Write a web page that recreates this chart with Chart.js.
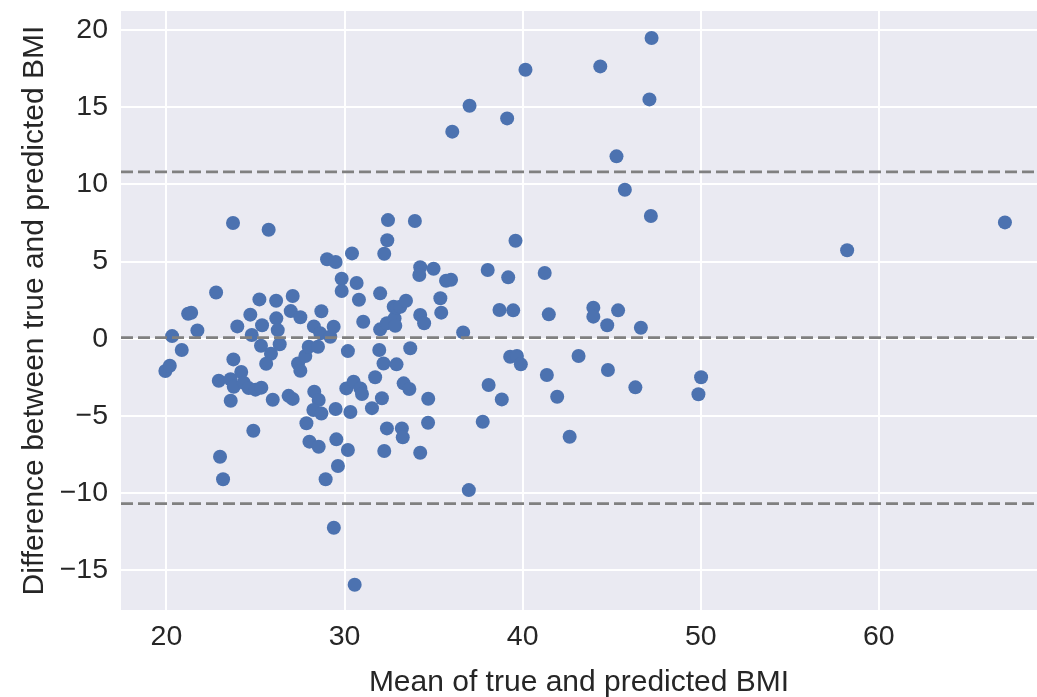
<!DOCTYPE html>
<html>
<head>
<meta charset="utf-8">
<script src="https://cdn.jsdelivr.net/npm/chart.js@4.4.0/dist/chart.umd.min.js"></script>
<style>
  html, body { margin: 0; padding: 0; background: #fff; }
  #wrap { width: 1037px; height: 697px; }
</style>
</head>
<body>
<div id="wrap"><canvas id="myChart"></canvas></div>
<script>
// mean of true and predicted BMI
const meanBMI = [
  19.94, 20.19, 20.32, 20.86, 21.22, 21.39, 21.74, 22.79, 22.94, 23.01,
  23.18, 23.74, 23.76, 23.60, 23.78, 23.61, 23.98, 24.20, 24.34, 24.62,
  25.00, 25.33, 24.71, 24.79, 24.88, 25.22, 25.37, 25.31, 25.74, 25.87,
  25.60, 25.97, 26.16, 26.17, 26.25, 26.36, 26.86, 27.09, 27.09, 26.98,
  27.52, 27.39, 27.52, 27.80, 27.99, 27.86, 28.03, 28.28, 28.70, 28.30,
  28.55, 28.25, 28.70, 28.55, 28.51, 28.64, 29.20, 29.39, 29.02, 29.50,
  29.84, 29.84, 29.50, 29.54, 29.63, 28.94, 29.40, 30.57, 30.19, 30.42,
  30.68, 30.81, 31.05, 30.10, 30.51, 30.89, 30.98, 30.33, 30.19, 31.54,
  31.72, 31.95, 32.00, 32.00, 32.38, 32.81, 32.85, 32.19, 32.10, 32.38,
  32.23, 32.23, 32.40, 32.44, 32.76, 32.94, 33.13, 33.45, 32.92, 33.32,
  33.64, 33.22, 33.27, 33.69, 33.95, 34.25, 34.20, 34.25, 34.47, 34.70,
  34.69, 34.25, 35.00, 35.38, 35.43, 35.70, 35.98, 36.05, 36.66, 36.98,
  37.02, 37.76, 38.04, 38.09, 38.70, 38.83, 39.13, 39.19, 39.47, 39.60,
  39.30, 39.68, 39.90, 40.16, 41.24, 41.47, 41.36, 41.94, 42.64, 43.14,
  43.97, 43.97, 44.36, 44.75, 44.79, 45.27, 45.36, 45.74, 46.33, 46.64,
  47.12, 47.24, 47.20, 49.87, 50.02, 58.22, 67.08
];
// difference between true and predicted BMI
const diffBMI = [
  -2.09, -1.75, 0.17, -0.73, 1.62, 1.68, 0.54, 3.00, -2.72, -7.65,
  -9.11, 7.50, -1.34, -2.63, -3.11, -4.02, 0.80, -2.16, -2.85, -3.20,
  -3.30, -3.17, 1.56, 0.24, -5.96, 2.55, 0.87, -0.45, 7.06, -0.97,
  -1.62, -3.95, 2.46, 1.32, 0.56, -0.36, -3.70, -3.90, 2.77, 1.79,
  1.39, -1.60, -2.07, -1.12, -0.52, -5.48, -6.67, 0.80, 1.78, -3.43,
  -3.97, -4.62, -4.85, -7.00, -0.52, 0.35, 0.13, 0.78, 5.15, 4.97,
  3.89, 3.09, -4.55, -6.52, -8.25, -9.11, -12.25, -15.94, -0.80, 5.53,
  3.61, 2.53, 1.10, -3.22, -2.79, -3.22, -3.58, -4.75, -7.21, -4.50,
  -2.50, -0.73, 2.94, 0.61, 1.00, 1.32, 0.84, -1.60, -3.86, -5.81,
  -7.28, 5.51, 6.38, 7.69, 2.07, 2.00, 2.07, 2.46, -1.66, -2.89,
  -3.26, -5.81, -6.39, -0.62, 7.63, 4.63, 4.13, 1.54, 1.00, -3.89,
  -5.44, -7.39, 4.54, 2.62, 1.69, 3.76, 3.82, 13.42, 0.41, -9.81,
  15.10, -5.38, 4.45, -3.00, 1.86, -3.93, 14.28, 3.98, 1.84, 6.35,
  -1.17, -1.12, -1.66, 17.43, 4.26, 1.58, -2.35, -3.76, -6.35, -1.12,
  2.01, 1.43, 17.65, 0.87, -2.03, 11.82, 1.84, 9.66, -3.15, 0.71,
  15.51, 19.49, 7.95, -3.60, -2.50, 5.73, 7.54
];
// mean difference and limits of agreement
const refLines = [10.82, 0.07, -10.69];

const xTicks = [20, 30, 40, 50, 60];
const yTicks = [-15, -10, -5, 0, 5, 10, 15, 20];
const xMin = 17.45, xMax = 68.88;
const yMin = -17.58, yMax = 21.24;

const textColor = '#262626';
const fontFamily = '"Liberation Sans", Arial, sans-serif';

const points = meanBMI.map((m, i) => ({ x: m, y: diffBMI[i] }));

const lineSets = refLines.map(v => ({
  type: 'line',
  data: [{ x: xMin, y: v }, { x: xMax, y: v }],
  borderColor: '#808080',
  borderWidth: 2.7,
  borderDash: [12, 5],
  pointRadius: 0,
  fill: false,
  order: 0
}));

// fundo cinza do seaborn
const bgPlugin = {
  id: 'bg',
  beforeDraw(chart) {
    const { ctx, chartArea: a } = chart;
    ctx.save();
    ctx.fillStyle = '#EAEAF2';
    ctx.fillRect(a.left, a.top, a.right - a.left, a.bottom - a.top);
    ctx.restore();
  }
};

const config = {
  type: 'scatter',
  data: {
    datasets: [
      {
        data: points,
        backgroundColor: '#4C72B0',
        borderColor: '#4C72B0',
        borderWidth: 0,
        pointRadius: 7,
        pointHoverRadius: 7,
        order: 1
      },
      ...lineSets
    ]
  },
  options: {
    responsive: true,
    maintainAspectRatio: false,
    animation: false,
    layout: { autoPadding: false, padding: { top: 11, right: 0, left: 0, bottom: 0 } },
    plugins: {
      legend: { display: false },
      tooltip: { enabled: false }
    },
    scales: {
      x: {
        type: 'linear',
        min: xMin,
        max: xMax,
        afterBuildTicks: s => { s.ticks = xTicks.map(v => ({ value: v })); },
        afterFit: s => { s.height = 87; s.paddingLeft = 0; s.paddingRight = 0; },
        border: { display: false },
        grid: { color: '#ffffff', lineWidth: 2, drawTicks: false },
        ticks: {
          color: textColor,
          padding: 10,
          font: { family: fontFamily, size: 28.5 }
        },
        title: {
          display: true,
          text: 'Mean of true and predicted BMI',
          color: textColor,
          font: { family: fontFamily, size: 30, lineHeight: 0.95 },
          padding: { top: 4, bottom: 0 }
        }
      },
      y: {
        type: 'linear',
        min: yMin,
        max: yMax,
        afterBuildTicks: s => { s.ticks = yTicks.map(v => ({ value: v })); },
        afterFit: s => { s.width = 121; s.paddingTop = 0; s.paddingBottom = 0; },
        border: { display: false },
        grid: { color: '#ffffff', lineWidth: 2, drawTicks: false },
        ticks: {
          color: textColor,
          padding: 13,
          font: { family: fontFamily, size: 28.5 },
          callback: v => (v < 0 ? '\u2212' + Math.abs(v) : '' + v)
        },
        title: {
          display: true,
          text: 'Difference between true and predicted BMI',
          color: textColor,
          font: { family: fontFamily, size: 30 },
          padding: { top: 17, bottom: 0 }
        }
      }
    }
  },
  plugins: [bgPlugin]
};

const myChart = new Chart(document.getElementById('myChart'), config);
</script>
</body>
</html>
